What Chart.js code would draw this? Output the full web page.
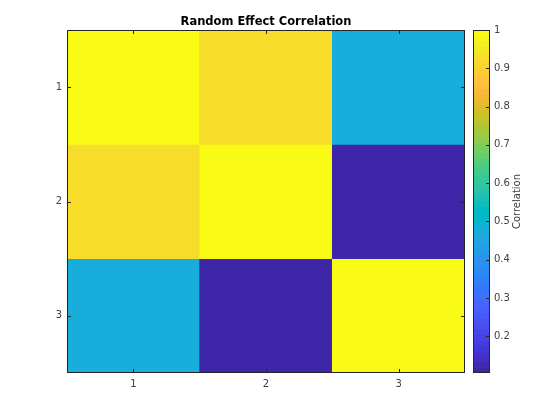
<!DOCTYPE html>
<html>
<head>
<meta charset="utf-8">
<script src="https://cdn.jsdelivr.net/npm/chart.js@4"></script>
<style>
  html, body { margin: 0; padding: 0; background: #fff; }
  #wrap { position: relative; width: 560px; height: 420px; }
  #wrap canvas { position: absolute; left: 0; top: 0; }
</style>
</head>
<body>
<div id="wrap">
  <canvas id="heat" width="560" height="420"></canvas>
  <canvas id="cbar" width="560" height="420"></canvas>
</div>
<script>
// --- data ---
const rowLabels = ["1", "2", "3"];
const colLabels = ["1", "2", "3"];
const row1 = [1.00, 0.92, 0.47];
const row2 = [0.92, 1.00, 0.104];
const row3 = [0.47, 0.104, 1.00];
const rows = [row1, row2, row3];
const cbTicks = [0.2, 0.3, 0.4, 0.5, 0.6, 0.7, 0.8, 0.9, 1];
const cbLabel = "Correlation";
const titleText = "Random Effect Correlation";

// parula (64)
const parula = [
[0.2422,0.1504,0.6603],[0.2504,0.1650,0.7076],[0.2578,0.1818,0.7511],[0.2647,0.1978,0.7952],
[0.2706,0.2147,0.8364],[0.2751,0.2342,0.8710],[0.2783,0.2559,0.8991],[0.2803,0.2782,0.9221],
[0.2813,0.3006,0.9414],[0.2810,0.3228,0.9579],[0.2795,0.3447,0.9717],[0.2760,0.3667,0.9829],
[0.2699,0.3892,0.9906],[0.2602,0.4123,0.9952],[0.2440,0.4358,0.9988],[0.2206,0.4603,0.9973],
[0.1963,0.4847,0.9892],[0.1834,0.5074,0.9798],[0.1786,0.5289,0.9682],[0.1764,0.5499,0.9520],
[0.1687,0.5703,0.9359],[0.1540,0.5902,0.9218],[0.1460,0.6091,0.9079],[0.1380,0.6276,0.8973],
[0.1248,0.6459,0.8883],[0.1113,0.6635,0.8763],[0.0952,0.6798,0.8598],[0.0689,0.6948,0.8394],
[0.0297,0.7082,0.8163],[0.0036,0.7203,0.7917],[0.0067,0.7312,0.7660],[0.0433,0.7411,0.7394],
[0.0964,0.7500,0.7120],[0.1408,0.7584,0.6842],[0.1717,0.7670,0.6554],[0.1938,0.7758,0.6251],
[0.2161,0.7843,0.5923],[0.2470,0.7918,0.5567],[0.2906,0.7973,0.5188],[0.3406,0.8008,0.4789],
[0.3909,0.8029,0.4354],[0.4456,0.8024,0.3909],[0.5044,0.7993,0.3480],[0.5616,0.7942,0.3045],
[0.6174,0.7876,0.2612],[0.6720,0.7793,0.2227],[0.7242,0.7698,0.1910],[0.7738,0.7598,0.1646],
[0.8203,0.7498,0.1535],[0.8634,0.7406,0.1596],[0.9035,0.7330,0.1774],[0.9393,0.7288,0.2100],
[0.9728,0.7298,0.2394],[0.9956,0.7434,0.2371],[0.9970,0.7659,0.2199],[0.9952,0.7893,0.2028],
[0.9892,0.8136,0.1885],[0.9786,0.8386,0.1766],[0.9676,0.8639,0.1643],[0.9610,0.8890,0.1537],
[0.9597,0.9135,0.1423],[0.9628,0.9373,0.1265],[0.9691,0.9606,0.1064],[0.9769,0.9839,0.0805]
];

const allVals = rows.flat();
const cMin = Math.min(...allVals);
const cMax = Math.max(...allVals);

function rgb(c) {
    return `rgb(${Math.round(c[0] * 255)},${Math.round(c[1] * 255)},${Math.round(c[2] * 255)})`;
}
function colorFor(v) {
    let i = Math.floor((v - cMin) / (cMax - cMin) * parula.length);
    i = Math.max(0, Math.min(parula.length - 1, i));
    return rgb(parula[i]);
}

const FONT = "'DejaVu Sans', sans-serif";
const AXIS = "#262626";
const TICKLEN = 4;

// box + inward ticks, MATLAB style
const boxPlugin = {
    id: "box",
    afterDatasetsDraw(chart, args, opts) {
        const { ctx, chartArea: a } = chart;
        ctx.save();
        ctx.strokeStyle = AXIS;
        ctx.lineWidth = 1;
        ctx.strokeRect(Math.round(a.left) + 0.5, Math.round(a.top) + 0.5,
            Math.round(a.right - a.left) - 1, Math.round(a.bottom - a.top) - 1);
        ctx.beginPath();
        if (opts.x) {
            const xs = chart.scales.x;
            xs.ticks.forEach((t, i) => {
                const px = Math.round(xs.getPixelForTick(i)) + 0.5;
                ctx.moveTo(px, a.bottom); ctx.lineTo(px, a.bottom - TICKLEN);
                ctx.moveTo(px, a.top); ctx.lineTo(px, a.top + TICKLEN);
            });
        }
        const ys = chart.scales.y;
        ys.ticks.forEach(t => {
            const py = Math.round(ys.getPixelForValue(t.value)) + 0.5;
            if (opts.left) { ctx.moveTo(a.left, py); ctx.lineTo(a.left + TICKLEN, py); }
            ctx.moveTo(a.right, py); ctx.lineTo(a.right - TICKLEN, py);
        });
        ctx.stroke();
        ctx.restore();
    }
};

// --- heatmap ---
new Chart(document.getElementById("heat"), {
    type: "bar",
    data: {
        labels: colLabels,
        datasets: rows.map((vals, r) => ({
            label: rowLabels[r],
            data: vals.map(() => [r + 0.5, r + 1.5]),
            backgroundColor: vals.map(colorFor),
            borderWidth: 0,
            barPercentage: 1,
            categoryPercentage: 1
        }))
    },
    options: {
        responsive: false,
        animation: false,
        events: [],
        grouped: false,
        layout: { padding: { left: 37, right: 95, top: 0, bottom: 0 } },
        plugins: {
            legend: { display: false },
            tooltip: { enabled: false },
            title: {
                display: true,
                text: titleText,
                fullSize: false,
                color: "#000",
                font: { family: FONT, size: 11.5, weight: "bold" },
                padding: { top: 15, bottom: 1.2 }
            },
            box: { x: true, left: true }
        },
        scales: {
            x: {
                type: "category",
                grid: { display: false, drawTicks: false },
                border: { display: false },
                ticks: { color: "#404040", font: { family: FONT, size: 10 }, padding: 5, maxRotation: 0 },
                afterFit: s => { s.height = 47; }
            },
            y: {
                type: "linear",
                reverse: true,
                min: 0.5,
                max: rowLabels.length + 0.5,
                grid: { display: false, drawTicks: false },
                border: { display: false },
                afterBuildTicks: s => { s.ticks = rowLabels.map((_, i) => ({ value: i + 1 })); },
                ticks: {
                    color: "#404040",
                    font: { family: FONT, size: 10 },
                    padding: 5,
                    callback: v => rowLabels[Math.round(v) - 1]
                },
                afterFit: s => { s.width = 30; }
            }
        }
    },
    plugins: [boxPlugin]
});

// --- colorbar ---
const cbTitlePlugin = {
    id: "cbTitle",
    afterDraw(chart) {
        const { ctx, chartArea: a } = chart;
        ctx.save();
        ctx.translate(517.5, (a.top + a.bottom) / 2);
        ctx.rotate(-Math.PI / 2);
        ctx.fillStyle = "#404040";
        ctx.font = "10px " + FONT;
        ctx.textAlign = "center";
        ctx.textBaseline = "middle";
        ctx.fillText(cbLabel, 0, 0);
        ctx.restore();
    }
};

new Chart(document.getElementById("cbar"), {
    type: "bar",
    data: {
        labels: [""],
        datasets: [{
            data: [[cMin, cMax]],
            borderWidth: 0,
            barPercentage: 1,
            categoryPercentage: 1,
            backgroundColor: c => {
                const a = c.chart.chartArea;
                if (!a) return null;
                const g = c.chart.ctx.createLinearGradient(0, a.bottom, 0, a.top);
                parula.forEach((col, i) => {
                    g.addColorStop(i / parula.length, rgb(col));
                    g.addColorStop((i + 1) / parula.length, rgb(col));
                });
                return g;
            }
        }]
    },
    options: {
        responsive: false,
        animation: false,
        events: [],
        layout: { padding: { left: 473, right: 0, top: 30, bottom: 47 } },
        plugins: {
            legend: { display: false },
            tooltip: { enabled: false },
            box: { x: false, left: false }
        },
        scales: {
            x: { display: false },
            y: {
                type: "linear",
                position: "right",
                min: cMin,
                max: cMax,
                grid: { display: false, drawTicks: false },
                border: { display: false },
                afterBuildTicks: s => { s.ticks = cbTicks.map(v => ({ value: v })); },
                ticks: {
                    color: "#404040",
                    font: { family: FONT, size: 10 },
                    padding: 4,
                    callback: v => String(v)
                },
                afterFit: s => { s.width = 70; }
            }
        }
    },
    plugins: [boxPlugin, cbTitlePlugin]
});
</script>
</body>
</html>
